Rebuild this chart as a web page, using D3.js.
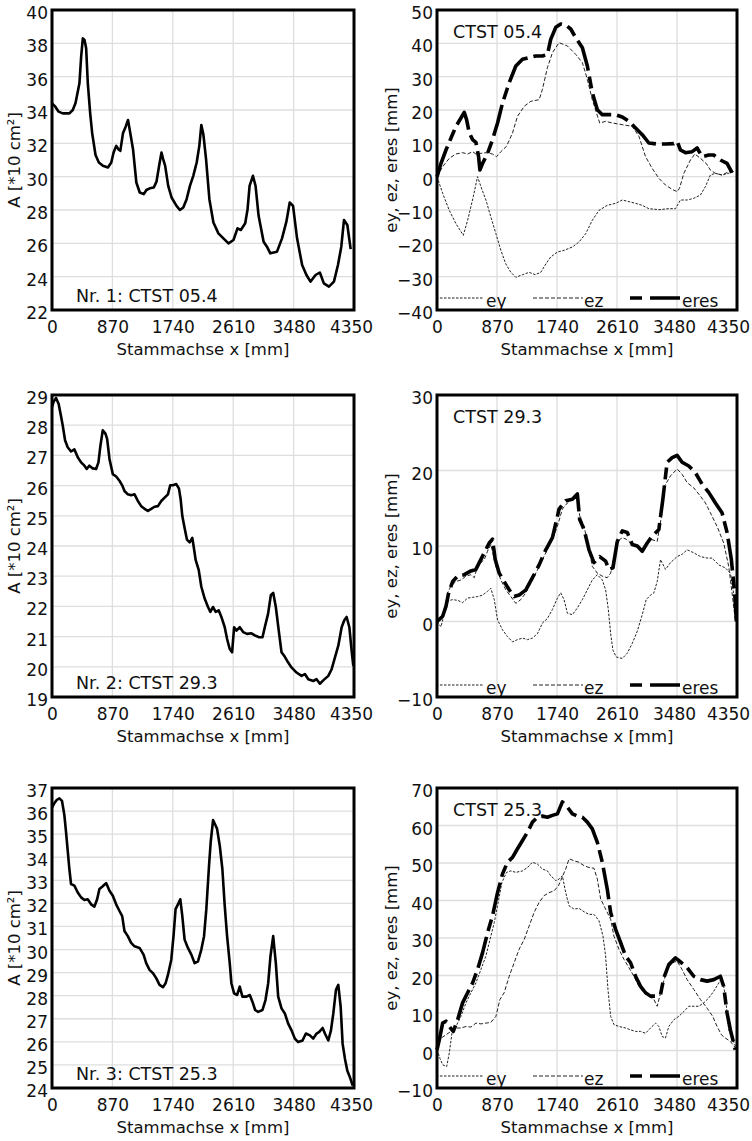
<!DOCTYPE html>
<html>
<head>
<meta charset="utf-8">
<script src="https://cdn.jsdelivr.net/npm/d3@7"></script>
<style>
  body { margin: 0; background: #fff; }
  svg { display: block; font-family: "DejaVu Sans", Verdana, sans-serif; }
</style>
</head>
<body>
<script>
// x ticks shared by all panels (Stammachse x [mm])
const xTicks = [0, 870, 1740, 2610, 3480, 4350];

// y ticks per panel
const yTicksA1 = [22, 24, 26, 28, 30, 32, 34, 36, 38, 40];
const yTicksA2 = [19, 20, 21, 22, 23, 24, 25, 26, 27, 28, 29];
const yTicksA3 = [24, 25, 26, 27, 28, 29, 30, 31, 32, 33, 34, 35, 36, 37];
const yTicksE1 = [-40, -30, -20, -10, 0, 10, 20, 30, 40, 50];
const yTicksE2 = [-10, 0, 10, 20, 30];
const yTicksE3 = [-10, 0, 10, 20, 30, 40, 50, 60, 70];

// cross-section area A [*10 cm²], [x mm, A]
const areaNr1 = [[0,34.4],[48,34.2],[96,33.9],[154,33.8],[203,33.8],[251,33.8],[299,34.0],[338,34.4],[371,35.1],[395,35.6],[420,37.2],[444,38.3],[468,38.2],[492,37.7],[516,35.6],[550,33.8],[579,32.6],[627,31.3],[675,30.85],[733,30.65],[805,30.55],[854,30.85],[887,31.45],[926,31.85],[955,31.65],[984,31.55],[1022,32.6],[1061,33.0],[1095,33.4],[1128,32.6],[1167,31.65],[1215,29.65],[1264,29.05],[1322,28.95],[1360,29.2],[1408,29.3],[1466,29.35],[1505,29.7],[1543,30.65],[1577,31.45],[1601,31.05],[1630,30.65],[1674,29.45],[1722,28.75],[1794,28.25],[1842,28.0],[1891,28.15],[1939,28.65],[1987,29.45],[2035,30.05],[2084,30.85],[2122,31.85],[2151,33.1],[2180,32.55],[2219,31.05],[2267,28.65],[2325,27.25],[2397,26.6],[2469,26.3],[2542,26.0],[2614,26.2],[2672,26.9],[2720,26.8],[2783,27.2],[2817,28.05],[2846,29.45],[2894,30.05],[2932,29.45],[2976,27.65],[3048,26.1],[3096,25.8],[3144,25.4],[3241,25.5],[3313,26.3],[3376,27.3],[3424,28.45],[3472,28.25],[3530,26.3],[3603,24.7],[3665,24.1],[3723,23.7],[3796,24.1],[3858,24.25],[3916,23.6],[3989,23.4],[4061,23.7],[4119,24.7],[4167,25.8],[4206,27.4],[4254,27.1],[4302,25.65]];

const areaNr2 = [[0,28.6],[24,28.78],[58,28.9],[96,28.7],[130,28.3],[154,28.0],[188,27.5],[226,27.27],[274,27.13],[322,27.2],[371,26.94],[419,26.77],[467,26.66],[500,26.55],[539,26.66],[587,26.57],[635,26.55],[669,26.77],[698,27.33],[731,27.83],[770,27.72],[794,27.55],[828,26.88],[876,26.38],[924,26.3],[972,26.16],[1011,26.01],[1044,25.82],[1092,25.71],[1140,25.68],[1189,25.71],[1237,25.49],[1285,25.32],[1333,25.23],[1381,25.16],[1429,25.23],[1477,25.3],[1526,25.32],[1574,25.49],[1622,25.6],[1670,25.71],[1703,26.01],[1742,26.01],[1790,26.05],[1829,25.9],[1853,25.55],[1877,24.99],[1910,24.6],[1944,24.21],[1983,24.12],[2021,24.27],[2040,23.99],[2069,23.54],[2113,23.21],[2151,22.65],[2199,22.26],[2247,21.98],[2281,21.82],[2320,21.98],[2358,21.82],[2401,21.87],[2440,21.65],[2488,21.31],[2522,20.92],[2560,20.59],[2594,20.48],[2623,21.31],[2656,21.2],[2705,21.31],[2753,21.15],[2810,21.09],[2873,21.11],[2921,21.04],[2983,20.98],[3032,20.98],[3065,21.31],[3113,21.76],[3152,22.37],[3186,22.45],[3224,21.98],[3272,21.09],[3306,20.48],[3354,20.33],[3402,20.14],[3450,19.98],[3522,19.81],[3594,19.7],[3643,19.76],[3691,19.59],[3763,19.53],[3811,19.59],[3859,19.44],[3907,19.55],[3980,19.7],[4028,19.92],[4076,20.31],[4124,20.7],[4172,21.31],[4210,21.54],[4244,21.65],[4283,21.31],[4316,20.53],[4340,20.03]];

const areaNr3 = [[0,36.15],[34,36.34],[67,36.48],[106,36.55],[144,36.44],[178,35.83],[202,35.1],[226,34.3],[250,33.5],[274,32.84],[322,32.77],[371,32.47],[419,32.26],[467,32.15],[515,32.18],[563,31.96],[611,31.86],[650,32.18],[683,32.62],[731,32.74],[780,32.88],[828,32.55],[876,32.33],[924,31.96],[972,31.67],[1011,31.45],[1044,30.8],[1092,30.58],[1140,30.29],[1189,30.14],[1261,30.07],[1319,29.78],[1357,29.41],[1405,29.12],[1453,28.98],[1501,28.76],[1549,28.47],[1598,28.37],[1636,28.54],[1670,28.9],[1718,29.56],[1752,30.65],[1780,31.75],[1814,31.96],[1848,32.18],[1877,31.45],[1910,30.43],[1958,30.07],[2007,29.78],[2055,29.41],[2103,29.49],[2151,30.0],[2190,30.58],[2223,31.75],[2262,33.64],[2286,34.66],[2320,35.61],[2343,35.46],[2377,35.24],[2416,34.51],[2454,33.49],[2488,31.89],[2522,30.58],[2560,29.41],[2584,28.54],[2623,28.1],[2666,28.03],[2704,28.39],[2743,27.96],[2801,27.96],[2849,28.03],[2887,27.74],[2926,27.38],[2969,27.3],[3032,27.38],[3075,27.81],[3114,28.54],[3147,29.71],[3186,30.58],[3224,29.41],[3258,27.96],[3306,27.45],[3354,27.23],[3402,26.79],[3450,26.5],[3498,26.14],[3546,25.99],[3609,26.06],[3657,26.36],[3715,26.28],[3763,26.14],[3811,26.36],[3850,26.43],[3898,26.6],[3931,26.36],[3980,26.06],[4018,26.5],[4052,27.23],[4090,28.25],[4124,28.47],[4158,27.52],[4186,25.92],[4220,25.26],[4254,24.75],[4292,24.46],[4331,24.1]];

// eccentricities [x mm, e mm] for CTST 05.4
const ey1 = [[0,0],[82,-5.0],[178,-10.1],[275,-14.1],[381,-17.6],[444,-13.1],[526,-6.0],[588,0],[637,-3.0],[709,-7.0],[781,-12.1],[854,-17.1],[926,-22.1],[998,-26.2],[1071,-28.7],[1143,-30.2],[1240,-29.4],[1336,-28.7],[1423,-29.4],[1505,-28.7],[1577,-26.2],[1649,-24.1],[1746,-22.6],[1842,-22.1],[1963,-21.1],[2059,-19.6],[2156,-17.1],[2252,-13.1],[2349,-10.1],[2469,-8.6],[2590,-8.0],[2686,-7.0],[2783,-7.5],[2879,-8.0],[2976,-8.6],[3072,-9.6],[3217,-9.9],[3361,-9.6],[3458,-9.6],[3530,-7.0],[3627,-7.0],[3723,-6.5],[3820,-5.5],[3892,-3.0],[3964,0.5],[4037,1.0],[4133,0.5],[4230,1.0],[4302,1.5]];
const ez1 = [[0,0],[82,3.0],[178,5.5],[275,6.8],[371,7.2],[444,6.8],[516,7.5],[564,6.8],[637,7.0],[709,7.2],[805,6.8],[863,6.0],[926,7.5],[1008,9.1],[1095,13.1],[1167,18.1],[1264,21.1],[1360,22.6],[1481,23.1],[1529,26.2],[1601,32.7],[1674,37.2],[1770,40.2],[1891,39.2],[2011,36.7],[2108,34.2],[2180,29.2],[2252,23.1],[2359,16.1],[2445,16.6],[2542,16.1],[2686,15.6],[2831,15.1],[2928,12.1],[3024,6.0],[3120,2.5],[3217,-0.5],[3313,-2.5],[3410,-3.8],[3482,-4.5],[3516,-3.5],[3579,1.0],[3675,5.0],[3738,6.8],[3820,5.5],[3902,4.0],[3964,2.0],[4037,1.0],[4133,0.5],[4230,1.5],[4302,1.5]];
const eres1 = [[0,0],[58,4.0],[130,8.0],[203,11.6],[275,15.1],[347,17.6],[395,19.3],[429,17.1],[468,13.1],[516,11.1],[564,10.3],[603,6.0],[622,2.0],[661,4.0],[733,7.0],[805,11.1],[878,16.1],[950,22.1],[1047,28.2],[1143,33.2],[1240,35.2],[1336,35.7],[1432,36.2],[1529,36.2],[1601,36.7],[1649,41.2],[1722,44.8],[1794,45.8],[1866,45.5],[1939,44.3],[2011,41.7],[2108,38.7],[2180,33.2],[2252,25.2],[2325,20.1],[2397,18.6],[2493,18.6],[2590,18.6],[2686,17.9],[2783,16.6],[2879,14.6],[2976,12.6],[3072,10.1],[3193,9.8],[3313,9.8],[3434,9.9],[3482,10.6],[3530,8.0],[3603,7.2],[3699,7.5],[3772,8.6],[3844,6.0],[3940,6.5],[4013,6.5],[4109,5.0],[4206,4.0],[4278,1.2]];

// CTST 29.3
const ey2 = [[0,0],[58,-0.7],[106,1.1],[154,2.7],[227,2.9],[299,2.8],[371,2.5],[444,3.1],[516,3.2],[588,3.3],[661,3.5],[733,4.0],[781,4.4],[830,2.9],[878,0.2],[950,-1.1],[1022,-2.0],[1095,-2.7],[1167,-2.4],[1240,-2.2],[1312,-2.4],[1384,-2.2],[1457,-1.6],[1529,-0.2],[1601,0.4],[1674,1.6],[1746,3.1],[1794,3.8],[1842,2.9],[1891,1.1],[1963,0.9],[2035,1.8],[2108,2.9],[2180,4.2],[2252,5.5],[2325,6.2],[2397,5.5],[2445,4.2],[2484,1.6],[2518,-1.6],[2551,-3.8],[2600,-4.7],[2686,-4.9],[2759,-4.2],[2831,-2.9],[2904,-1.3],[2976,0.9],[3034,2.9],[3096,3.5],[3145,3.8],[3193,5.3],[3241,8.2],[3313,6.9],[3386,7.8],[3482,8.6],[3554,8.9],[3627,9.5],[3723,9.1],[3820,8.6],[3916,8.4],[3988,8.4],[4085,7.5],[4181,7.1],[4254,6.4],[4316,2.9],[4336,0.2]];
const ez2 = [[0,0],[58,0.2],[106,1.1],[154,3.8],[203,4.7],[275,5.3],[347,5.5],[419,6.0],[492,6.2],[540,5.8],[588,7.3],[637,7.8],[685,8.2],[733,9.3],[781,10.2],[854,7.3],[926,5.5],[998,4.2],[1071,3.3],[1143,2.4],[1215,2.9],[1288,3.8],[1384,5.5],[1481,7.3],[1577,9.1],[1674,10.9],[1746,12.6],[1818,14.9],[1891,15.7],[1963,16.2],[2035,16.4],[2069,14.0],[2132,12.6],[2194,10.0],[2252,7.3],[2325,6.4],[2397,6.0],[2469,5.8],[2518,6.4],[2566,8.6],[2614,10.6],[2686,11.1],[2744,10.9],[2807,10.4],[2879,10.0],[2952,9.5],[3024,10.0],[3101,10.9],[3193,10.6],[3256,14.0],[3304,18.0],[3386,19.3],[3482,20.2],[3554,19.5],[3627,18.4],[3723,17.7],[3820,16.6],[3892,15.7],[3964,14.4],[4061,12.6],[4157,10.4],[4230,7.3],[4278,3.8],[4326,0.2]];
const eres2 = [[0,0],[82,0.7],[130,2.0],[169,3.8],[227,5.3],[299,6.0],[395,6.2],[492,6.7],[564,6.9],[613,7.8],[685,9.1],[757,10.4],[805,10.9],[844,8.2],[902,6.4],[974,5.3],[1047,4.2],[1119,3.3],[1191,3.5],[1288,4.2],[1384,5.8],[1481,7.5],[1577,9.5],[1674,11.1],[1770,14.9],[1866,16.0],[1963,16.2],[2035,16.9],[2069,13.5],[2132,12.2],[2204,9.5],[2276,7.8],[2359,8.6],[2445,8.0],[2493,6.9],[2551,7.1],[2614,10.6],[2686,12.0],[2759,11.8],[2831,10.2],[2904,10.0],[2976,9.3],[3048,10.4],[3120,11.3],[3217,12.2],[3275,16.2],[3337,21.1],[3410,21.7],[3482,22.0],[3554,21.1],[3651,20.6],[3747,19.7],[3844,18.2],[3940,17.1],[4037,15.7],[4133,14.4],[4206,11.8],[4268,8.2],[4316,3.8],[4341,0]];

// CTST 25.3
const ey3 = [[0,0.2],[43,-2.1],[82,-3.8],[140,-4.3],[178,-0.7],[217,4.6],[275,6.4],[347,9.1],[420,12.7],[492,15.4],[564,18.0],[637,21.6],[709,25.2],[781,30.5],[830,34.1],[878,38.6],[941,44.8],[1008,47.5],[1071,47.9],[1143,47.5],[1240,47.9],[1312,48.8],[1384,50.2],[1457,49.7],[1529,48.4],[1601,47.9],[1649,46.6],[1722,45.3],[1770,45.7],[1818,46.6],[1866,42.1],[1915,38.6],[1987,37.7],[2059,37.9],[2132,37.0],[2204,36.3],[2276,36.3],[2349,34.6],[2407,30.5],[2445,25.2],[2479,16.3],[2518,9.1],[2566,6.9],[2638,6.4],[2735,6.0],[2807,5.5],[2879,5.1],[2952,5.1],[3024,4.6],[3096,6.0],[3169,7.3],[3217,6.4],[3265,3.75],[3313,3.3],[3361,6.4],[3434,8.2],[3506,9.1],[3579,10.4],[3651,11.8],[3723,11.8],[3796,11.8],[3868,12.7],[3940,14.0],[4013,15.8],[4085,18.0],[4133,19.4],[4182,14.5],[4230,5.5],[4288,2.9],[4350,0.2]];
const ez3 = [[0,2.4],[58,3.3],[130,4.2],[203,5.1],[275,6.0],[347,6.0],[420,6.4],[492,6.25],[564,7.3],[637,7.1],[709,7.3],[781,7.5],[854,9.1],[912,13.6],[974,15.4],[1047,19.8],[1119,23.4],[1191,27.0],[1264,29.6],[1336,33.2],[1408,36.8],[1481,39.5],[1553,41.3],[1625,42.1],[1698,42.6],[1760,43.9],[1794,45.3],[1866,48.4],[1915,51.1],[1987,50.6],[2059,50.2],[2132,49.3],[2204,48.8],[2276,48.6],[2325,45.7],[2373,40.4],[2445,37.7],[2518,35.0],[2566,30.5],[2638,27.0],[2711,24.3],[2783,22.1],[2855,19.8],[2928,17.1],[3000,15.4],[3072,14.5],[3145,13.6],[3193,11.8],[3265,17.1],[3337,21.6],[3410,23.4],[3482,23.8],[3554,21.6],[3627,18.9],[3723,16.3],[3820,13.6],[3916,11.3],[3998,9.1],[4061,6.4],[4124,4.2],[4182,3.3],[4254,2.4],[4350,0.2]];
const eres3 = [[0,0.2],[34,2.9],[82,7.3],[130,7.8],[178,6.4],[236,5.1],[299,8.2],[371,12.7],[444,15.4],[516,18.0],[588,21.6],[661,26.1],[733,31.4],[805,35.9],[878,42.1],[950,47.1],[1022,50.2],[1095,51.5],[1167,53.8],[1240,56.0],[1312,58.2],[1384,60.9],[1457,62.2],[1529,62.5],[1601,62.2],[1674,62.7],[1746,63.1],[1818,66.3],[1891,64.9],[1963,63.1],[2035,62.5],[2108,62.2],[2180,60.9],[2252,59.1],[2325,55.5],[2397,50.2],[2469,43.0],[2518,36.8],[2590,32.3],[2662,28.8],[2735,25.2],[2807,23.4],[2879,19.8],[2952,17.1],[3024,15.4],[3096,14.5],[3169,14.5],[3241,14.9],[3289,19.4],[3361,22.9],[3458,24.7],[3545,23.4],[3627,22.1],[3723,19.8],[3820,18.9],[3916,18.5],[4013,18.9],[4109,19.8],[4157,17.1],[4206,10.0],[4254,5.5],[4326,0.2]];

const panelLabels = ["Nr. 1: CTST 05.4", "Nr. 2: CTST 29.3", "Nr. 3: CTST 25.3"];
const specimenLabels = ["CTST 05.4", "CTST 29.3", "CTST 25.3"];
const legendNames = ["ey", "ez", "eres"];

// line styles for the eccentricity series
const styles = {
  ey:   { width: 1,   dash: "2.5,1.5", color: "#222" },
  ez:   { width: 1,   dash: "4,2",     color: "#222" },
  eres: { width: 3.6, dash: "32,6,12,6", color: "#000" }
};

const W = 752, H = 1141;
const svg = d3.select("body").append("svg")
  .attr("width", W).attr("height", H);
svg.append("rect").attr("width", W).attr("height", H).attr("fill", "#fff");

const rows = [
  { top: 10, bottom: 310 },
  { top: 395, bottom: 697 },
  { top: 788, bottom: 1088 }
];
const cols = [
  { left: 52, right: 354 },
  { left: 437, right: 737 }
];

function drawPanel(row, col, yDomain, yTicks, series, opts) {
  const x = d3.scaleLinear().domain([0, 4350]).range([col.left, col.right]);
  const y = d3.scaleLinear().domain(yDomain).range([row.bottom, row.top]);
  const g = svg.append("g");

  // grid
  g.append("g").selectAll("line").data(xTicks.slice(1, -1)).join("line")
    .attr("x1", d => x(d)).attr("x2", d => x(d))
    .attr("y1", row.top).attr("y2", row.bottom)
    .attr("stroke", "#dedede").attr("stroke-width", 1.3);
  g.append("g").selectAll("line").data(yTicks.slice(1, -1)).join("line")
    .attr("y1", d => y(d)).attr("y2", d => y(d))
    .attr("x1", col.left).attr("x2", col.right)
    .attr("stroke", "#dedede").attr("stroke-width", 1.3);

  // axes (labels only, grid drawn above)
  const xAxis = g.append("g")
    .attr("transform", `translate(0,${row.bottom})`)
    .call(d3.axisBottom(x).tickValues(xTicks).tickFormat(d3.format("d")).tickSize(0).tickPadding(0));
  xAxis.select(".domain").remove();
  xAxis.selectAll("text")
    .attr("y", 23).attr("dy", 0)
    .attr("dx", (d, i) => i === xTicks.length - 1 ? opts.lastDx : (i === xTicks.length - 2 ? opts.prevDx : 0))
    .style("font-size", "17px").style("font-family", "DejaVu Sans").attr("fill", "#111");

  const yAxis = g.append("g")
    .attr("transform", `translate(${col.left},0)`)
    .call(d3.axisLeft(y).tickValues(yTicks).tickFormat(d3.format("d")).tickSize(0).tickPadding(4));
  yAxis.select(".domain").remove();
  yAxis.selectAll("text")
    .attr("dy", "0.5em")
    .style("font-size", "17px").style("font-family", "DejaVu Sans").attr("fill", "#111");

  // axis titles
  g.append("text")
    .attr("x", (col.left + col.right) / 2).attr("y", row.bottom + 45)
    .attr("text-anchor", "middle").style("font-size", "16.5px").attr("fill", "#111")
    .text("Stammachse x [mm]");
  g.append("text")
    .attr("transform", `translate(${col.left - opts.titleOff},${(row.top + row.bottom) / 2}) rotate(-90)`)
    .attr("text-anchor", "middle").style("font-size", "16.5px").attr("fill", "#111")
    .text(opts.yTitle);

  const line = d3.line().x(d => x(d[0])).y(d => y(d[1]));
  series.forEach(s => {
    g.append("path").datum(s.data)
      .attr("fill", "none")
      .attr("stroke", s.color)
      .attr("stroke-width", s.width)
      .attr("stroke-dasharray", s.dash || null)
      .attr("stroke-linejoin", "round")
      .attr("d", line);
  });

  if (opts.legend) {
    const ly = row.bottom - 12, ty = row.bottom - 3;
    const items = [
      { key: "ey", x1: -1, x2: 46, tx: 49 },
      { key: "ez", x1: 96, x2: 146, tx: 147 },
      { key: "eres", x1: 193, x2: 243, tx: 245 }
    ];
    items.forEach((it, i) => {
      const st = styles[it.key];
      g.append("line")
        .attr("x1", col.left + it.x1).attr("x2", col.left + it.x2)
        .attr("y1", ly).attr("y2", ly)
        .attr("stroke", st.color).attr("stroke-width", st.width)
        .attr("stroke-dasharray", it.key === "eres" ? "12,8,30,8" : st.dash);
      g.append("text")
        .attr("x", col.left + it.tx).attr("y", ty)
        .style("font-size", "17px").attr("fill", "#111")
        .text(legendNames[i]);
    });
  }

  // annotation
  g.append("text")
    .attr("x", col.left + opts.noteDx).attr("y", opts.noteTop ? row.top + 28 : row.bottom - 8)
    .style("font-size", "17.5px").attr("fill", "#111")
    .text(opts.note);

  // frame
  g.append("rect")
    .attr("x", col.left).attr("y", row.top)
    .attr("width", col.right - col.left).attr("height", row.bottom - row.top)
    .attr("fill", "none").attr("stroke", "#000").attr("stroke-width", 3);
}

const areaSeries = d => [{ data: d, color: "#000", width: 2.6 }];
const eSeries = (ey, ez, eres) => [
  { data: ey, color: styles.ey.color, width: styles.ey.width, dash: styles.ey.dash },
  { data: ez, color: styles.ez.color, width: styles.ez.width, dash: styles.ez.dash },
  { data: eres, color: styles.eres.color, width: styles.eres.width, dash: styles.eres.dash }
];

const leftOpts = i => ({ yTitle: "A [*10 cm²]", titleOff: 32, lastDx: -3, prevDx: 0, note: panelLabels[i], noteDx: 24, noteTop: false });
const rightOpts = i => ({ yTitle: "ey, ez, eres [mm]", titleOff: 40, lastDx: -9, prevDx: -3, note: specimenLabels[i], noteDx: 16, noteTop: true, legend: true });

drawPanel(rows[0], cols[0], [22, 40], yTicksA1, areaSeries(areaNr1), leftOpts(0));
drawPanel(rows[1], cols[0], [19, 29], yTicksA2, areaSeries(areaNr2), leftOpts(1));
drawPanel(rows[2], cols[0], [24, 37], yTicksA3, areaSeries(areaNr3), leftOpts(2));
drawPanel(rows[0], cols[1], [-40, 50], yTicksE1, eSeries(ey1, ez1, eres1), rightOpts(0));
drawPanel(rows[1], cols[1], [-10, 30], yTicksE2, eSeries(ey2, ez2, eres2), rightOpts(1));
drawPanel(rows[2], cols[1], [-10, 70], yTicksE3, eSeries(ey3, ez3, eres3), rightOpts(2));
</script>
</body>
</html>
